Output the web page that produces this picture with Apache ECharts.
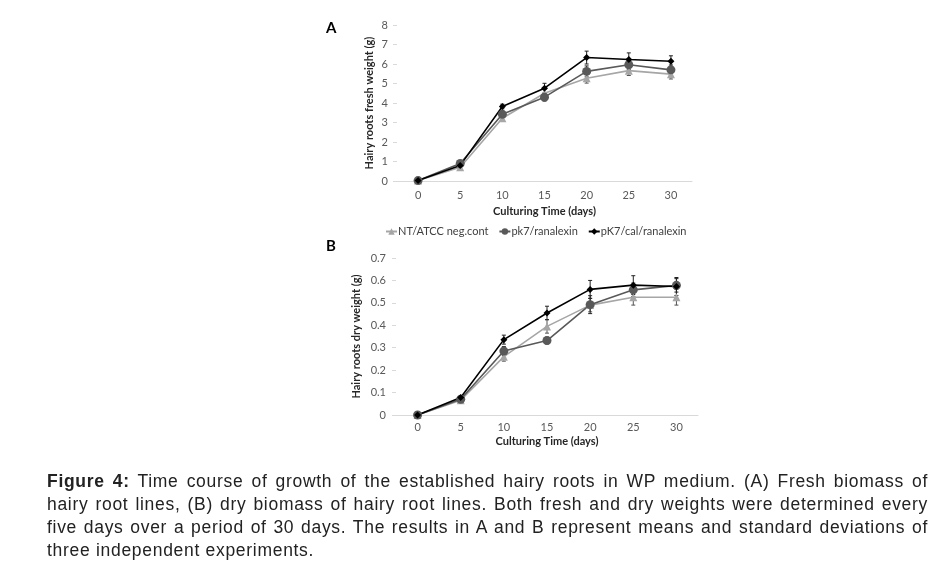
<!DOCTYPE html>
<html>
<head>
<meta charset="utf-8">
<script src="https://cdn.jsdelivr.net/npm/echarts@6/dist/echarts.min.js"></script>
<style>
  html, body { margin: 0; padding: 0; background: #fff; }
  #chart { position: absolute; left: 0; top: 0; width: 942px; height: 568px; }
  #caption { position: absolute; left: 47px; top: 470px; width: 881px;
    font-family: "Liberation Sans", Arial, sans-serif;
    font-size: 17.5px; line-height: 23px; color: #222; letter-spacing: 0.7px; }
  #caption .ln { white-space: nowrap; text-align: justify; text-align-last: justify; }
  #caption .last { text-align-last: left; }
</style>
</head>
<body>
<div id="chart"></div>
<div id="caption">
  <div class="ln"><b>Figure 4:</b> Time course of growth of the established hairy roots in WP medium. (A) Fresh biomass of</div>
  <div class="ln">hairy root lines, (B) dry biomass of hairy root lines. Both fresh and dry weights were determined every</div>
  <div class="ln">five days over a period of 30 days. The results in A and B represent means and standard deviations of</div>
  <div class="ln last">three independent experiments.</div>
</div>
<script>
const days = ['0', '5', '10', '15', '20', '25', '30'];
const seriesNames = ['NT/ATCC neg.cont', 'pk7/ranalexin', 'pK7/cal/ranalexin'];

const freshNT  = [0.02, 0.70, 3.22, 4.50, 5.27, 5.66, 5.48];
const freshPk7 = [0.02, 0.90, 3.42, 4.30, 5.62, 5.96, 5.70];
const freshCal = [0.02, 0.80, 3.82, 4.76, 6.33, 6.23, 6.14];
const freshNTErr  = [0.02, 0.05, 0.15, 0.20, 0.25, 0.25, 0.25];
const freshPk7Err = [0.02, 0.05, 0.15, 0.20, 0.28, 0.25, 0.25];
const freshCalErr = [0.02, 0.05, 0.12, 0.25, 0.33, 0.34, 0.28];

const dryNT  = [0.000, 0.066, 0.260, 0.395, 0.490, 0.525, 0.525];
const dryPk7 = [0.000, 0.070, 0.285, 0.332, 0.492, 0.558, 0.578];
const dryCal = [0.000, 0.078, 0.336, 0.455, 0.560, 0.579, 0.573];
const dryNTErr  = [0.003, 0.005, 0.020, 0.030, 0.030, 0.035, 0.035];
const dryPk7Err = [0.003, 0.005, 0.020, 0.015, 0.040, 0.030, 0.030];
const dryCalErr = [0.003, 0.005, 0.020, 0.030, 0.040, 0.042, 0.040];

const colors = ['#a6a6a6', '#595959', '#000000'];
const symbols = ['triangle', 'circle', 'diamond'];
const symbolSizes = [8, 9, 7];
const FONT = 'Lato, "Open Sans", sans-serif';

function errorSeries(vals, errs, idx, colorIdx) {
  return {
    type: 'custom',
    xAxisIndex: idx, yAxisIndex: idx,
    silent: true,
    z: 3,
    encode: { x: 0, y: 1 },
    data: vals.map((v, i) => [i, v, errs[i]]),
    renderItem: function (params, api) {
      const x = api.value(0), y = api.value(1), e = api.value(2);
      const hi = api.coord([x, y + e]);
      const lo = api.coord([x, y - e]);
      const c = colorIdx === 0 ? '#555' : '#222';
      const w = 2;
      const st = { stroke: c, lineWidth: 1 };
      return { type: 'group', children: [
        { type: 'line', shape: { x1: hi[0], y1: hi[1], x2: lo[0], y2: lo[1] }, style: st },
        { type: 'line', shape: { x1: hi[0] - w, y1: hi[1], x2: hi[0] + w, y2: hi[1] }, style: st },
        { type: 'line', shape: { x1: lo[0] - w, y1: lo[1], x2: lo[0] + w, y2: lo[1] }, style: st }
      ]};
    }
  };
}

function lineSeries(name, vals, idx, k) {
  return {
    name: name, type: 'line',
    xAxisIndex: idx, yAxisIndex: idx,
    data: vals,
    symbol: symbols[k], symbolSize: symbolSizes[k],
    showSymbol: true,
    color: colors[k],
    itemStyle: { color: colors[k] },
    lineStyle: { color: colors[k], width: 1.6 },
    z: 4,
    animation: false
  };
}

function xAx(idx, margin, gap) {
  return {
    type: 'category', gridIndex: idx, data: days, boundaryGap: true,
    axisLine: { show: true, lineStyle: { color: '#d9d9d9', width: 1 } },
    axisTick: { show: false },
    axisLabel: { color: '#595959', fontSize: 11, fontFamily: FONT, margin: margin },
    name: 'Culturing Time (days)', nameLocation: 'middle', nameGap: gap,
    nameTextStyle: { color: '#262626', fontSize: 11, fontWeight: 'bold', fontFamily: FONT }
  };
}

function yAx(idx, max, interval, name, gap, margin) {
  return {
    type: 'value', gridIndex: idx, min: 0, max: max, interval: interval,
    axisLine: { show: false },
    axisTick: { show: true, length: 4, lineStyle: { color: '#d9d9d9' } },
    splitLine: { show: false },
    axisLabel: { color: '#595959', fontSize: 11, fontFamily: FONT, margin: margin },
    name: name, nameLocation: 'middle', nameRotate: 90, nameGap: gap,
    nameTextStyle: { color: '#262626', fontSize: 11, fontWeight: 'bold', fontFamily: FONT }
  };
}

const chart = echarts.init(document.getElementById('chart'), null, { renderer: 'canvas' });
chart.setOption({
  backgroundColor: '#ffffff',
  animation: false,
  textStyle: { fontFamily: FONT },
  grid: [
    { left: 397, top: 25, width: 295, height: 156 },
    { left: 396, top: 258, width: 302, height: 157 }
  ],
  legend: {
    left: 380, top: 221, itemWidth: 11, itemHeight: 8, itemGap: 10,
    data: seriesNames,
    textStyle: { color: '#404040', fontSize: 11, fontFamily: FONT, padding: [0, 0, 0, -4] }
  },
  xAxis: [xAx(0, 9, 25), xAx(1, 7, 21)],
  yAxis: [
    yAx(0, 8, 1, 'Hairy roots fresh weight (g)', 22, 9),
    yAx(1, 0.7, 0.1, 'Hairy roots dry weight (g)', 34, 10)
  ],
  graphic: [
    { type: 'text', left: 326, top: 21, style: { text: 'A', fontSize: 15, fontWeight: 'bold', fill: '#000', fontFamily: FONT } },
    { type: 'text', left: 326, top: 239, style: { text: 'B', fontSize: 15, fontWeight: 'bold', fill: '#000', fontFamily: FONT } }
  ],
  series: [
    errorSeries(freshNT, freshNTErr, 0, 0),
    errorSeries(freshPk7, freshPk7Err, 0, 1),
    errorSeries(freshCal, freshCalErr, 0, 2),
    lineSeries(seriesNames[0], freshNT, 0, 0),
    lineSeries(seriesNames[1], freshPk7, 0, 1),
    lineSeries(seriesNames[2], freshCal, 0, 2),
    errorSeries(dryNT, dryNTErr, 1, 0),
    errorSeries(dryPk7, dryPk7Err, 1, 1),
    errorSeries(dryCal, dryCalErr, 1, 2),
    lineSeries(seriesNames[0], dryNT, 1, 0),
    lineSeries(seriesNames[1], dryPk7, 1, 1),
    lineSeries(seriesNames[2], dryCal, 1, 2)
  ]
});
</script>
</body>
</html>
